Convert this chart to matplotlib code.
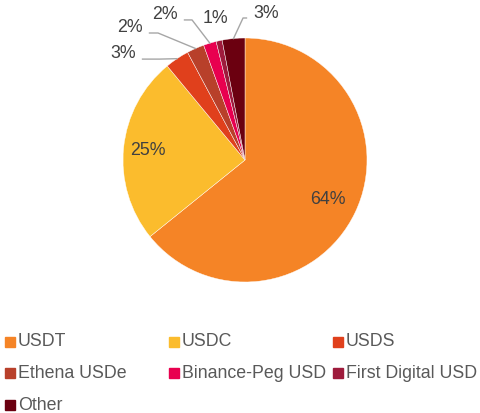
import numpy as np
import matplotlib
matplotlib.use('Agg')
import matplotlib.pyplot as plt
from matplotlib.patches import Rectangle

plt.rcParams['font.family'] = ['Liberation Sans', 'DejaVu Sans']

# Data #
coins = ['USDT', 'USDC', 'USDS', 'Ethena USDe', 'Binance-Peg USD', 'First Digital USD', 'Other']
shares = [64.2, 24.8, 3.2, 2.3, 1.7, 0.8, 3.0]
colors = ['#F58426', '#FBBC2D', '#E0401C', '#B8402A', '#E8004F', '#9E1B3C', '#6B0010']

# label placement for the small slices (data coords, pie radius = 1)
outside_text = {2: (-1.00, 0.877), 3: (-0.943, 1.082), 4: (-0.656, 1.189),
                5: (-0.246, 1.160), 6: (0.172, 1.197)}
outside_elbow = {2: (-0.70, 0.827), 3: (-0.713, 1.041), 4: (-0.434, 1.148),
                 5: None, 6: (-0.016, 1.164)}
inside_r = {0: 0.75, 1: 0.80}
fs = 12.8

W, H = 481, 413
fig = plt.figure(figsize=(W/100., H/100.), dpi=100)
cx, cy, R = 245, 160, 122
ax = fig.add_axes([(cx-R)/W, (H-cy-R)/H, 2*R/W, 2*R/H])

wedges, _ = ax.pie(shares, colors=colors, startangle=90, counterclock=False,
                   radius=1, wedgeprops=dict(edgecolor='white', linewidth=0.3))
ax.set_xlim(-1, 1)
ax.set_ylim(-1, 1)
ax.set_aspect('equal')
ax.axis('off')

total = float(sum(shares))
for i, w in enumerate(wedges):
    pct = '%d%%' % round(100*shares[i]/total)
    mid = np.deg2rad((w.theta1 + w.theta2)/2.)
    if i in inside_r:
        r = inside_r[i]
        ax.text(r*np.cos(mid), r*np.sin(mid), pct, ha='center', va='center',
                fontsize=fs, color='#404040')
    else:
        tx, ty = outside_text[i]
        ex, ey = np.cos(mid), np.sin(mid)
        ax.text(tx, ty, pct, ha='center', va='center', fontsize=fs, color='#404040', clip_on=False)
        elbow = outside_elbow[i]
        if elbow is None:
            continue  # no leader line drawn for this one
        start_x = tx + (0.16 if tx < elbow[0] else -0.16)
        ax.plot([start_x, elbow[0], ex], [elbow[1], elbow[1], ey], color='#A6A6A6', lw=1, clip_on=False)

# Legend #
col_x = [5, 169, 333]
row_y = [342, 373, 405]
for i, name in enumerate(coins):
    x0 = col_x[i % 3]
    y0 = row_y[i // 3]
    fig.patches.append(Rectangle((x0/W, (H-y0-5)/H), 10./W, 10./H,
                                 transform=fig.transFigure, color=colors[i]))
    fig.text((x0+13)/W, (H-y0)/H, name, ha='left', va='center', fontsize=fs, color='#595959')

fig.savefig('out.png', dpi=100)
